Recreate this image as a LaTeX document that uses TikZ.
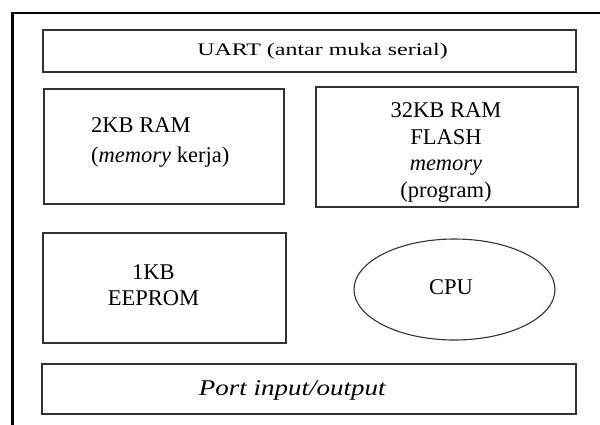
\documentclass[tikz,border=0pt]{standalone}
\usepackage{fontspec}
\setmainfont{Liberation Serif}
\usetikzlibrary{shapes.geometric}
\begin{document}
\begin{tikzpicture}[x=1pt,y=-1pt,
  box/.style={draw=black!80, line width=1.1pt, inner sep=0pt},
  lbl/.style={inner sep=0pt, align=center, font=\fontsize{22.5}{26.7}\selectfont}]
\useasboundingbox (0,0) rectangle (600,424);
\clip (0,0) rectangle (600,424);
\draw[line width=2.4pt] (12.5,440) -- (12.5,13) -- (620,13);
% boxes
\node[box, minimum width=533, minimum height=42] (uart) at (309.5,51) {};
\node[box, minimum width=240, minimum height=115] (ram) at (164,146.5) {};
\node[box, minimum width=262, minimum height=120] (flash) at (447,147) {};
\node[box, minimum width=243, minimum height=110] (eeprom) at (164.5,288) {};
\node[box, ellipse, minimum width=201, minimum height=101] (cpu) at (454.5,289.5) {};
\node[box, minimum width=534, minimum height=50] (port) at (309,389) {};
% texts
\node[lbl] (uartt) at (322.5,51) {\scalebox{1.36}[1]{\fontsize{17.6}{20}\selectfont UART (antar muka serial)}};
\node[lbl, anchor=west, align=left, font=\fontsize{22.5}{30}\selectfont] (ramt) at (91,142) {2KB RAM\\(\textit{memory} kerja)};
\node[lbl] (flasht) at (446,152.5) {32KB RAM\\FLASH\\\textit{memory}\\(program)};
\node[lbl, font=\fontsize{22.5}{25.7}\selectfont] (eepromt) at (153.5,285.5) {1KB\\EEPROM};
\node[lbl] (cput) at (451,287) {CPU};
\node[lbl] (portt) at (292.5,390) {\scalebox{1.2}[1]{\textit{Port input/output}}};
\end{tikzpicture}
\end{document}
